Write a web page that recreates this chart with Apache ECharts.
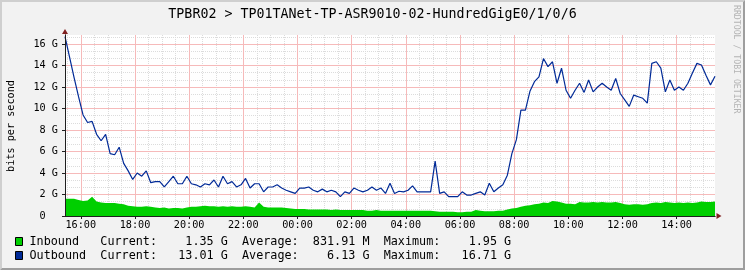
<!DOCTYPE html>
<html>
<head>
<meta charset="utf-8">
<script src="https://cdn.jsdelivr.net/npm/echarts@6.0.0/dist/echarts.min.js"></script>
<style>
html,body{margin:0;padding:0;background:#f2f2f2;}
#chart{width:745px;height:270px;}
</style>
</head>
<body>
<div id="chart"></div>
<script>
// ---------- data ----------
const titleText = 'TPBR02 > TP01TANet-TP-ASR9010-02-HundredGigE0/1/0/6';
const unitLabel = 'bits per second';
const watermark = 'RRDTOOL / TOBI OETIKER';
const startMinute = 15 * 60 + 25;   // 15:25
const stepMinutes = 10;
const spanMinutes = 24 * 60;

// Inbound (G bits/s), every 10 minutes from 15:25
const inbound = [
  1.6, 1.6, 1.6, 1.5, 1.4, 1.45, 1.8, 1.35, 1.25, 1.2,
  1.2, 1.2, 1.15, 1.1, 0.95, 0.9, 0.85, 0.85, 0.9, 0.85,
  0.8, 0.75, 0.8, 0.7, 0.75, 0.75, 0.7, 0.8, 0.85, 0.85,
  0.9, 0.95, 0.9, 0.9, 0.85, 0.9, 0.85, 0.9, 0.85, 0.85,
  0.9, 0.85, 0.8, 1.25, 0.85, 0.8, 0.8, 0.8, 0.8, 0.75,
  0.7, 0.65, 0.65, 0.65, 0.6, 0.6, 0.6, 0.6, 0.6, 0.55,
  0.6, 0.55, 0.55, 0.55, 0.55, 0.55, 0.55, 0.5, 0.5, 0.55,
  0.5, 0.5, 0.5, 0.5, 0.5, 0.5, 0.5, 0.5, 0.5, 0.5,
  0.5, 0.5, 0.45, 0.4, 0.4, 0.4, 0.4, 0.35, 0.35, 0.4,
  0.4, 0.55, 0.5, 0.45, 0.45, 0.45, 0.5, 0.5, 0.6, 0.7,
  0.75, 0.85, 0.95, 1.0, 1.1, 1.15, 1.25, 1.2, 1.4, 1.35,
  1.25, 1.15, 1.15, 1.1, 1.3, 1.25, 1.25, 1.3, 1.25, 1.3,
  1.25, 1.25, 1.3, 1.2, 1.1, 1.05, 1.1, 1.1, 1.05, 1.1,
  1.2, 1.25, 1.2, 1.3, 1.25, 1.2, 1.25, 1.2, 1.25, 1.2,
  1.25, 1.35, 1.3, 1.3, 1.35
];

// Outbound (G bits/s), every 10 minutes from 15:25
const outbound = [
  16.7, 14.8, 12.9, 11.1, 9.4, 8.7, 8.8, 7.6, 7.0, 7.6,
  5.8, 5.7, 6.4, 4.9, 4.2, 3.4, 4.0, 3.7, 4.2, 3.1,
  3.2, 3.2, 2.7, 3.2, 3.7, 3.0, 3.0, 3.7, 3.0, 2.9,
  2.7, 3.0, 2.9, 3.35, 2.7, 3.7, 3.0, 3.2, 2.7, 2.9,
  3.5, 2.6, 3.0, 3.0, 2.25, 2.7, 2.7, 2.9, 2.6, 2.4,
  2.25, 2.1, 2.6, 2.6, 2.7, 2.4, 2.25, 2.5, 2.25, 2.4,
  2.25, 1.8, 2.25, 2.1, 2.6, 2.4, 2.25, 2.4, 2.7, 2.4,
  2.6, 2.1, 3.05, 2.1, 2.3, 2.25, 2.4, 2.8, 2.25, 2.25,
  2.25, 2.25, 5.1, 2.1, 2.25, 1.8, 1.8, 1.8, 2.25, 1.95,
  1.95, 2.1, 2.25, 1.95, 3.05, 2.25, 2.6, 2.9, 3.8, 5.8,
  7.1, 9.85, 9.85, 11.6, 12.5, 12.95, 14.65, 13.9, 14.35, 12.35,
  13.75, 11.7, 10.95, 11.7, 12.35, 11.5, 12.65, 11.55, 12.0, 12.35,
  12.0, 11.7, 12.8, 11.4, 10.8, 10.2, 11.25, 11.1, 10.95, 10.5,
  14.2, 14.35, 13.75, 11.55, 12.65, 11.7, 12.0, 11.7, 12.35, 13.3,
  14.2, 14.05, 13.1, 12.2, 13.0
];

const yMax = 16.84;
const yTickLabels = ['0  ', '2 G', '4 G', '6 G', '8 G', '10 G', '12 G', '14 G', '16 G'];

const legendNames = ['Inbound', 'Outbound'];
const legendColors = ['#00CF00', '#002A97'];
const legendCurrent = ['1.35 G', '13.01 G'];
const legendAverage = ['831.91 M', '6.13 G'];
const legendMaximum = ['1.95 G', '16.71 G'];

// ---------- chart ----------
const MONO = '"DejaVu Sans Mono", "Liberation Mono", monospace';
const xs = inbound.map((_, i) => startMinute + i * stepMinutes);
const inData = inbound.map((v, i) => [xs[i], v]);
const outData = outbound.map((v, i) => [xs[i], v]);

function fmtTime(m) {
  const h = Math.floor(m / 60) % 24;
  const mm = Math.round(m % 60);
  return String(h).padStart(2, '0') + ':' + String(mm).padStart(2, '0');
}
function legendLine(i) {
  return legendNames[i].padEnd(10) + 'Current:' + legendCurrent[i].padStart(10) +
    '  Average:' + legendAverage[i].padStart(10) +
    '  Maximum:' + legendMaximum[i].padStart(10);
}

const chart = echarts.init(document.getElementById('chart'), null, {renderer: 'canvas', width: 745, height: 270});

const GRID_MAJOR = '#f6baba';
const GRID_MINOR = '#dcdcdc';
const NONE = 'rgba(0,0,0,0)';
const AXIS_COL = '#1f1f1f';
const ARROW_COL = '#801f1f';

const xBase = {type: 'value', min: startMinute, max: startMinute + spanMinutes, gridIndex: 0, position: 'bottom', offset: 0};
const yBase = {type: 'value', min: 0, max: yMax, gridIndex: 0, position: 'left', offset: 0};

const option = {
  backgroundColor: '#f2f2f2',
  animation: false,
  textStyle: {fontFamily: MONO},
  grid: {left: 65, top: 35, width: 650, height: 181, show: true, backgroundColor: '#ffffff', borderWidth: 0},
  xAxis: [
    Object.assign({}, xBase, {
      minInterval: 120, maxInterval: 120, splitNumber: 12, z: 1,
      axisLine: {show: false},
      axisTick: {show: true, length: 3, lineStyle: {color: AXIS_COL}},
      axisLabel: {show: true, formatter: v => fmtTime(v), showMinLabel: false, showMaxLabel: false,
        margin: 4, color: '#000', fontFamily: MONO, fontSize: 10.2},
      splitLine: {show: true, showMinLine: false, showMaxLine: false,
        lineStyle: {color: GRID_MAJOR, type: 'solid', width: 1}}
    }),
    Object.assign({}, xBase, {
      minInterval: 30, maxInterval: 30, splitNumber: 48, z: 0,
      axisLine: {show: false},
      axisTick: {show: false},
      axisLabel: {show: false},
      splitLine: {show: true, showMinLine: false, showMaxLine: false,
        lineStyle: {color: [GRID_MINOR, NONE, GRID_MINOR, GRID_MINOR], type: [1, 1], width: 1}}
    }),
    Object.assign({}, xBase, {
      z: 5,
      axisLine: {show: true, onZero: false, symbol: ['none', 'triangle'], symbolSize: [6, 5], symbolOffset: [0, 4],
        lineStyle: {color: ARROW_COL, width: 1}},
      axisTick: {show: false}, axisLabel: {show: false}, splitLine: {show: false}
    }),
    Object.assign({}, xBase, {
      z: 6,
      axisLine: {show: true, onZero: false, lineStyle: {color: AXIS_COL, width: 1}},
      axisTick: {show: false}, axisLabel: {show: false}, splitLine: {show: false}
    })
  ],
  yAxis: [
    Object.assign({}, yBase, {
      interval: 2, z: 1,
      axisLine: {show: false},
      axisTick: {show: true, length: 3, lineStyle: {color: AXIS_COL}},
      axisLabel: {show: true, showMaxLabel: false, margin: 7, color: '#000', fontFamily: MONO, fontSize: 10.2,
        formatter: v => { const k = Math.round(v / 2); return (Math.abs(v - 2 * k) < 1e-6 && yTickLabels[k] !== undefined) ? yTickLabels[k] : ''; }},
      splitLine: {show: true, showMinLine: false, showMaxLine: false,
        lineStyle: {color: GRID_MAJOR, type: 'solid', width: 1}}
    }),
    Object.assign({}, yBase, {
      interval: 2 / 3, z: 0,
      axisLine: {show: false},
      axisTick: {show: false},
      axisLabel: {show: false},
      splitLine: {show: true, showMinLine: false, showMaxLine: false,
        lineStyle: {color: [GRID_MINOR, GRID_MINOR, NONE], type: [1, 1], width: 1}}
    }),
    Object.assign({}, yBase, {
      z: 5,
      axisLine: {show: true, onZero: false, symbol: ['none', 'triangle'], symbolSize: [6, 5], symbolOffset: [0, 3.5],
        lineStyle: {color: ARROW_COL, width: 1}},
      axisTick: {show: false}, axisLabel: {show: false}, splitLine: {show: false}
    }),
    Object.assign({}, yBase, {
      z: 6,
      axisLine: {show: true, onZero: false, lineStyle: {color: AXIS_COL, width: 1}},
      axisTick: {show: false}, axisLabel: {show: false}, splitLine: {show: false}
    })
  ],
  series: [
    {
      name: legendNames[0], type: 'line', xAxisIndex: 0, yAxisIndex: 0, data: inData,
      showSymbol: false, symbol: 'none', z: 2,
      lineStyle: {width: 0, color: legendColors[0]},
      areaStyle: {color: legendColors[0], opacity: 1}
    },
    {
      name: legendNames[1], type: 'line', xAxisIndex: 0, yAxisIndex: 0, data: outData,
      showSymbol: false, symbol: 'none', z: 3,
      lineStyle: {width: 1.2, color: legendColors[1]}
    }
  ],
  graphic: [
    {type: 'polygon', silent: true, shape: {points: [[0,0],[745,0],[743,2],[2,2],[2,268],[0,270]]}, style: {fill: '#cfcfcf'}},
    {type: 'polygon', silent: true, shape: {points: [[745,0],[745,270],[0,270],[2,268],[743,268],[743,2]]}, style: {fill: '#9e9e9e'}},
    {type: 'text', x: 372.5, y: 14.5, silent: true,
      style: {text: titleText, font: '13.3px ' + MONO, fill: '#000', align: 'center', verticalAlign: 'middle', textAlign: 'center', textVerticalAlign: 'middle'}},
    {type: 'text', x: 11, y: 126, rotation: Math.PI / 2, silent: true,
      style: {text: unitLabel, font: '10.2px ' + MONO, fill: '#000', align: 'center', verticalAlign: 'middle', textAlign: 'center', textVerticalAlign: 'middle'}},
    {type: 'text', x: 736, y: 5, rotation: -Math.PI / 2, silent: true,
      style: {text: watermark, font: '8.2px ' + MONO, fill: '#b4b4b4', align: 'left', verticalAlign: 'middle', textAlign: 'left', textVerticalAlign: 'middle'}},
    {type: 'rect', silent: true, shape: {x: 15.5, y: 237.5, width: 7, height: 8}, style: {fill: legendColors[0], stroke: '#000', lineWidth: 1}},
    {type: 'rect', silent: true, shape: {x: 15.5, y: 251.5, width: 7, height: 8}, style: {fill: legendColors[1], stroke: '#000', lineWidth: 1}},
    {type: 'text', x: 29.5, y: 241.8, silent: true,
      style: {text: legendLine(0), font: '11.78px ' + MONO, fill: '#000', align: 'left', verticalAlign: 'middle', textAlign: 'left', textVerticalAlign: 'middle'}},
    {type: 'text', x: 29.5, y: 255.9, silent: true,
      style: {text: legendLine(1), font: '11.78px ' + MONO, fill: '#000', align: 'left', verticalAlign: 'middle', textAlign: 'left', textVerticalAlign: 'middle'}}
  ]
};
chart.setOption(option);
</script>
</body>
</html>
